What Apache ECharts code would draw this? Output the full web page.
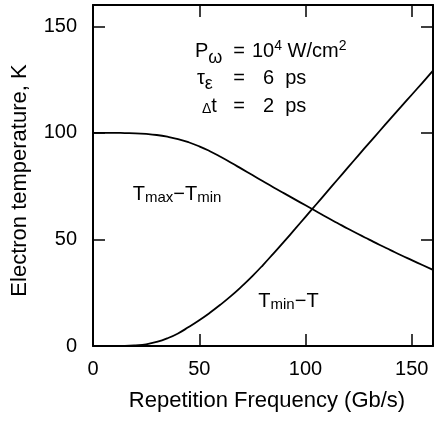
<!DOCTYPE html>
<html>
<head>
    <meta charset="utf-8">
    <title>Electron temperature vs repetition frequency</title>
    <style type="text/css">
        body{
            margin:0;
            padding:0;
            background-color:white;
        }
        #main{
            width:436px;
            height:428px;
        }
    </style>
</head>
<body>
<div id="main"></div>
<script src="https://cdn.jsdelivr.net/npm/echarts@6.0.0/dist/echarts.min.js"></script>
<script type="text/javascript">
    // repetition frequency, Gb/s
    var freq = [0, 5, 10, 15, 20, 25, 30, 35, 40, 45, 50, 55, 60, 65, 70, 75, 80,
        85, 90, 95, 100, 105, 110, 115, 120, 125, 130, 135, 140, 145, 150, 155, 160];
    // Tmax - Tmin, K
    var tMaxMinusTMin = [100, 100, 100, 99.9, 99.8, 99.5, 99.0, 98.2, 97.1, 95.6, 93.7, 91.4, 88.8,
        86.0, 83.1, 80.2, 77.3, 74.4, 71.6, 68.8, 66.0, 63.2, 60.4, 57.7, 55.0, 52.4, 49.9,
        47.4, 45.0, 42.6, 40.3, 38.0, 35.7];
    // Tmin - T, K
    var tMinMinusT = [0, 0, 0, 0.05, 0.3, 0.8, 1.9, 3.6, 5.9, 8.9, 12.1, 15.6, 19.4, 23.5, 28.0,
        32.8, 38.0, 43.5, 49.1, 54.8, 60.6, 66.4, 72.2, 78.0, 83.8, 89.6, 95.3, 101.0, 106.7,
        112.3, 117.9, 123.5, 129.2];
    var xTicks = [0, 50, 100, 150];
    var yTicks = [0, 50, 100, 150];

    var FONT = 'Liberation Sans, Arial, Helvetica, sans-serif';

    function pairs(ys) {
        return freq.map(function(f, i) { return [f, ys[i]]; });
    }

    function tickFmt(list) {
        return function(v) { return list.indexOf(v) >= 0 ? String(v) : ''; };
    }

    var lineStyle = {color: '#000', width: 2};
    var tickStyle = {inside: true, length: 12, lineStyle: {color: '#000', width: 1.5}};

    function frameAxis(pos) {
        return {
            type: 'value', min: 0, max: 160, interval: 50, position: pos,
            axisLine: {show: true, onZero: false, lineStyle: lineStyle},
            axisTick: tickStyle,
            axisLabel: {show: false},
            splitLine: {show: false}
        };
    }

    var myChart = echarts.init(document.getElementById('main'));
    var option = {
        animation: false,
        backgroundColor: '#fff',
        grid: {left: 93, right: 3, top: 5, bottom: 82},
        xAxis: [{
            type: 'value', min: 0, max: 160, interval: 50, position: 'bottom',
            axisLine: {show: true, onZero: false, lineStyle: lineStyle},
            axisTick: tickStyle,
            axisLabel: {margin: 13, fontSize: 20, color: '#000', fontFamily: FONT, formatter: tickFmt(xTicks)},
            splitLine: {show: false},
            name: 'Repetition Frequency (Gb/s)',
            nameLocation: 'middle',
            nameGap: 44,
            nameTextStyle: {fontSize: 22, color: '#000', fontFamily: FONT, padding: [0, 0, 0, 8]}
        }, frameAxis('top')],
        yAxis: [{
            type: 'value', min: 0, max: 160, interval: 50, position: 'left',
            axisLine: {show: true, onZero: false, lineStyle: lineStyle},
            axisTick: tickStyle,
            axisLabel: {margin: 16, fontSize: 20, color: '#000', fontFamily: FONT, formatter: tickFmt(yTicks)},
            splitLine: {show: false},
            name: 'Electron temperature, K',
            nameLocation: 'middle',
            nameGap: 62,
            nameTextStyle: {fontSize: 22, color: '#000', fontFamily: FONT, padding: [0, 10, 0, 0]}
        }, frameAxis('right')],
        series: [{
            name: 'Tmax-Tmin',
            type: 'line',
            data: pairs(tMaxMinusTMin),
            showSymbol: false,
            symbol: 'none',
            smooth: 0.5,
            lineStyle: {color: '#000', width: 1.8}
        }, {
            name: 'Tmin-T',
            type: 'line',
            data: pairs(tMinMinusT),
            showSymbol: false,
            symbol: 'none',
            smooth: 0.5,
            lineStyle: {color: '#000', width: 1.8}
        }]
    };
    myChart.setOption(option);

    // text annotations, anchored in data coordinates
    var rich = {
        n: {fontSize: 20, lineHeight: 30, verticalAlign: 'middle', fontFamily: FONT, color: '#000'},
        sub: {fontSize: 18, lineHeight: 18, verticalAlign: 'bottom', fontFamily: FONT, color: '#000'},
        sup: {fontSize: 14, lineHeight: 14, verticalAlign: 'top', padding: [2, 0, 0, 0], fontFamily: FONT, color: '#000'},
        t: {fontSize: 20, lineHeight: 20, verticalAlign: 'middle', fontFamily: FONT, color: '#000'},
        sm: {fontSize: 14, lineHeight: 14, verticalAlign: 'bottom', fontFamily: FONT, color: '#000'},
        m: {fontSize: 20, lineHeight: 22, verticalAlign: 'middle', fontFamily: FONT, color: '#000'},
        ms: {fontSize: 15, lineHeight: 15, verticalAlign: 'bottom', fontFamily: FONT, color: '#000'}
    };

    function label(at, text, align) {
        var p = myChart.convertToPixel({gridIndex: 0}, at);
        return {
            type: 'text', x: p[0], y: p[1], silent: true,
            style: {text: text, rich: rich, align: align || 'left', verticalAlign: 'middle',
                font: '20px ' + FONT, fill: '#000'}
        };
    }

    myChart.setOption({
        graphic: [
            label([48, 138], '{n|P}{sub|ω}'),
            label([68.7, 138], '{n|=}', 'center'),
            label([74.8, 138], '{n|10}{sup|4}{n| W/cm}{sup|2}'),
            label([48.9, 125.5], '{n|τ}{sub|ε}'),
            label([68.7, 125.5], '{n|=}', 'center'),
            label([80, 125.5], '{n|6  ps}'),
            label([51.3, 112.4], '{sm|Δ}{t|t}'),
            label([68.7, 112.4], '{n|=}', 'center'),
            label([80, 112.4], '{n|2  ps}'),
            label([18.7, 71.1], '{m|T}{ms|max}{m|−T}{ms|min}'),
            label([77.8, 21.1], '{m|T}{ms|min}{m|−T}')
        ]
    });
</script>
</body>
</html>
